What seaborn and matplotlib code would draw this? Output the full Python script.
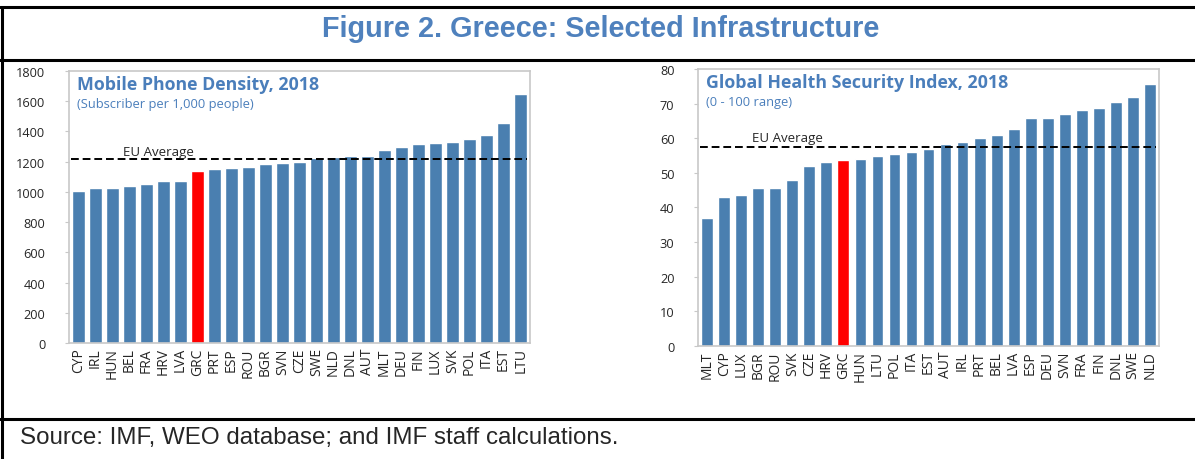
import matplotlib
matplotlib.use('Agg')
import matplotlib.pyplot as plt
import seaborn as sns
import pandas as pd
from matplotlib.lines import Line2D

# Mobile phone density (subscribers per 1,000 people), 2018
mobile_countries = ['CYP', 'IRL', 'HUN', 'BEL', 'FRA', 'HRV', 'LVA', 'GRC', 'PRT', 'ESP',
                    'ROU', 'BGR', 'SVN', 'CZE', 'SWE', 'NLD', 'DNL', 'AUT', 'MLT', 'DEU',
                    'FIN', 'LUX', 'SVK', 'POL', 'ITA', 'EST', 'LTU']
mobile_values = [1008, 1023, 1025, 1039, 1050, 1072, 1074, 1138, 1153, 1157,
                 1164, 1184, 1190, 1195, 1223, 1228, 1239, 1239, 1274, 1296,
                 1320, 1325, 1329, 1347, 1375, 1457, 1650]
mobile_eu_avg = 1217

# Global Health Security Index, 2018
ghs_countries = ['MLT', 'CYP', 'LUX', 'BGR', 'ROU', 'SVK', 'CZE', 'HRV', 'GRC', 'HUN',
                 'LTU', 'POL', 'ITA', 'EST', 'AUT', 'IRL', 'PRT', 'BEL', 'LVA', 'ESP',
                 'DEU', 'SVN', 'FRA', 'FIN', 'DNL', 'SWE', 'NLD']
ghs_values = [37.1, 42.9, 43.7, 45.5, 45.7, 47.8, 51.9, 53.2, 53.8, 53.9,
              54.9, 55.3, 56.1, 56.9, 58.4, 58.8, 60.2, 60.9, 62.8, 65.8,
              65.9, 67.1, 68.1, 68.6, 70.4, 72.0, 75.6]
ghs_eu_avg = 57.5

BLUE = '#4a7fb0'
RED = '#ff0000'
TITLE_BLUE = '#4a7ebb'

sns.set_style('white')
plt.rcParams['font.family'] = ['Open Sans', 'DejaVu Sans']

fig = plt.figure(figsize=(11.95, 4.6), dpi=100)


def draw_panel(rect, countries, values, eu_avg, ylim, yticks, title, subtitle,
               eu_x, eu_y, width):
    ax = fig.add_axes(rect)
    df = pd.DataFrame({'country': countries, 'value': values})
    palette = {c: (RED if c == 'GRC' else BLUE) for c in countries}
    sns.barplot(data=df, x='country', y='value', hue='country', palette=palette,
                legend=False, width=width, saturation=1, ax=ax)
    n = len(countries)
    ax.set_xlim(-0.55, n - 0.45)
    ax.set_ylim(*ylim)
    ax.set_yticks(yticks)
    ax.set_xlabel('')
    ax.set_ylabel('')
    ax.hlines(eu_avg, -0.45, n - 0.6, colors='black', linestyles=(0, (4, 2)), lw=1.4)
    ax.text(eu_x, eu_y, 'EU Average', fontsize=9.5, ha='left', va='bottom')
    ax.text(0.017, 0.985, title, transform=ax.transAxes, fontsize=12.8,
            fontweight='bold', color=TITLE_BLUE, va='top', ha='left')
    ax.text(0.017, 0.905, subtitle, transform=ax.transAxes, fontsize=9.3,
            color=TITLE_BLUE, va='top', ha='left')
    for s in ax.spines.values():
        s.set_color('#c8c8c8')
        s.set_linewidth(1.2)
    ax.tick_params(axis='x', labelrotation=90, labelsize=10, length=0, pad=3)
    ax.tick_params(axis='y', labelsize=9.2, length=3, color='#c8c8c8', pad=14,
                   left=True, direction='out')
    for lab in ax.get_yticklabels():
        lab.set_horizontalalignment('right')
    return ax


draw_panel([0.0577, 0.2522, 0.3858, 0.5913], mobile_countries, mobile_values,
           mobile_eu_avg, (0, 1800), range(0, 1801, 200),
           'Mobile Phone Density, 2018', '(Subscriber per 1,000 people)',
           2.6, 1222, 0.74)

draw_panel([0.5841, 0.2457, 0.3858, 0.6022], ghs_countries, ghs_values,
           ghs_eu_avg, (0, 80), range(0, 81, 10),
           'Global Health Security Index, 2018', '(0 - 100 range)',
           2.6, 58.2, 0.7)

# frame lines of the figure box
for y in [1 - 8 / 460, 1 - 61 / 460, 1 - 420 / 460]:
    fig.add_artist(Line2D([0, 1], [y, y], color='black', lw=2.2,
                          transform=fig.transFigure))
fig.add_artist(Line2D([0.0015, 0.0015], [0, 1 - 8 / 460], color='black', lw=2.2,
                      transform=fig.transFigure))

fig.text(0.5025, 1 - 29 / 460, 'Figure 2. Greece: Selected Infrastructure',
         ha='center', va='center', fontsize=20.8, fontweight='bold',
         color='#4f81bd', family=['Liberation Sans', 'DejaVu Sans'])
fig.text(0.017, 1 - 438 / 460, 'Source: IMF, WEO database; and IMF staff calculations.',
         ha='left', va='center', fontsize=17.4,
         family=['Liberation Sans', 'DejaVu Sans'])

fig.savefig('out.png', dpi=100)
